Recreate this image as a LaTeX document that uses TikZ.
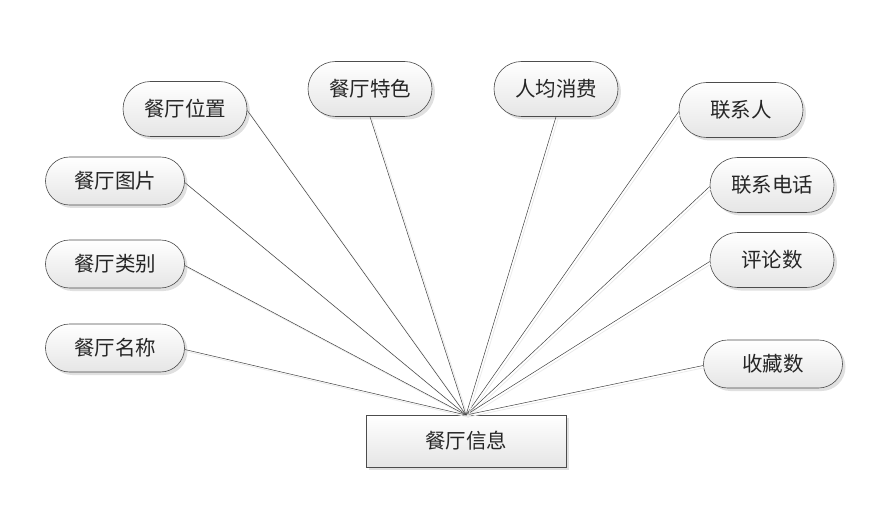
\documentclass[tikz,border=0pt]{standalone}
\usepackage{fontspec}
\newfontfamily\cjk{Noto Sans CJK SC}
\usetikzlibrary{shapes.misc,shadows}
\begin{document}
\begin{tikzpicture}[x=1pt,y=-1pt,
  attr/.style={rounded rectangle, draw=black!70, line width=0.6pt,
    top color=white, bottom color=black!10,
    drop shadow={shadow xshift=3pt, shadow yshift=-3pt, fill=black!12, opacity=1},
    minimum width=124pt, minimum height=55pt, inner sep=0pt,
    font=\cjk\fontsize{20.5}{24}\selectfont, text=black!85},
  wattr/.style={attr, minimum width=139pt, minimum height=48pt},
  ent/.style={rectangle, draw=black!70, line width=0.6pt,
    top color=white, bottom color=black!10,
    drop shadow={shadow xshift=3pt, shadow yshift=-3pt, fill=black!12, opacity=1},
    minimum width=200pt, minimum height=52pt, inner sep=0pt,
    font=\cjk\fontsize{20.5}{24}\selectfont, text=black!85},
  link/.style={draw=black!75, line width=0.5pt,
    preaction={draw=black!8, line width=0.8pt, transform canvas={shift={(2pt,-2pt)}}}}]
\useasboundingbox (0,0) rectangle (877,521);
\node[ent] (e) at (466,441) {餐厅信息};
\coordinate (hub) at (466,415);
\node[attr] (a1) at (185,109) {餐厅位置};
\node[attr] (a2) at (370,89) {餐厅特色};
\node[attr] (a3) at (556,89) {人均消费};
\node[attr] (a4) at (741,110) {联系人};
\node[attr] (a5) at (772,185) {联系电话};
\node[attr] (a6) at (772,260) {评论数};
\node[wattr] (a7) at (773,364) {收藏数};
\node[wattr] (b1) at (115,181) {餐厅图片};
\node[wattr] (b2) at (115,264) {餐厅类别};
\node[wattr] (b3) at (115,348) {餐厅名称};
\foreach \n/\a in {a1/east,b1/east,b2/east,b3/east,a4/west,a5/west,a6/west,a7/west}
  \draw[link] ([yshift=-1.5pt]\n.\a) -- (hub);
\foreach \n in {a2,a3}
  \draw[link] (\n.south) -- (hub);
\end{tikzpicture}
\end{document}
